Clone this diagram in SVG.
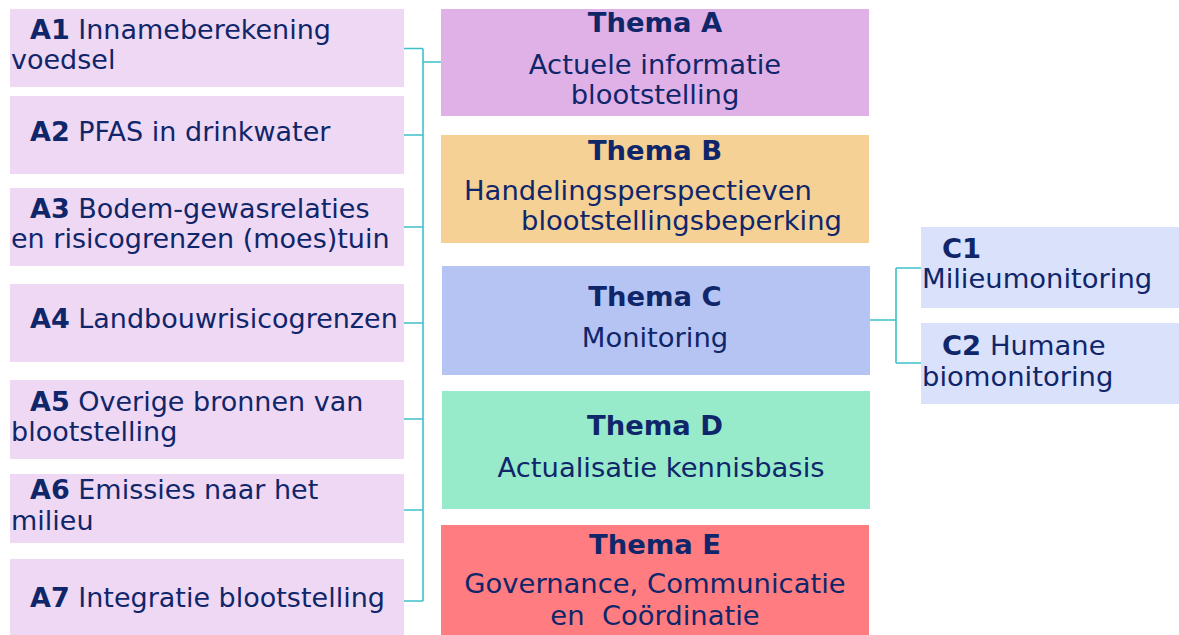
<svg xmlns="http://www.w3.org/2000/svg" width="1179" height="635" viewBox="0 0 1179 635">
<style>
text{font-family:"DejaVu Sans","Verdana",sans-serif;font-size:27.4px;fill:#10266A}
.l text{font-size:27px}
.b{font-weight:bold}
.c{text-anchor:middle}
.a{fill:#EED8F3}
.cs{fill:#DAE1FA}
.ln{fill:none;stroke:#3EC0CA;stroke-width:1.6}
</style>
<rect width="1179" height="635" fill="#FFFFFF"/>
<g id="connectors">
<path class="ln" d="M404,48.5H423M404,135H423M404,227H423M404,323H423M404,419H423M404,510H423M404,601H423M423,48.5V601M423,62H441"/>
<path class="ln" d="M870,320H896M896,268V363M896,268H921M896,363H921"/>
</g>
<g id="A1" class="l"><rect class="a" x="10" y="9" width="394" height="78"/><text x="30" y="39"><tspan class="b">A1</tspan> Innameberekening</text><text x="11" y="69">voedsel</text></g>
<g id="A2" class="l"><rect class="a" x="10" y="96" width="394" height="78"/><text x="30" y="141"><tspan class="b">A2</tspan> PFAS in drinkwater</text></g>
<g id="A3" class="l"><rect class="a" x="10" y="188" width="394" height="78"/><text x="30" y="218"><tspan class="b">A3</tspan> Bodem-gewasrelaties</text><text x="11" y="248">en risicogrenzen (moes)tuin</text></g>
<g id="A4" class="l"><rect class="a" x="10" y="284" width="394" height="78"/><text x="30" y="328"><tspan class="b">A4</tspan> Landbouwrisicogrenzen</text></g>
<g id="A5" class="l"><rect class="a" x="10" y="380" width="394" height="79"/><text x="30" y="411"><tspan class="b">A5</tspan> Overige bronnen van</text><text x="11" y="441">blootstelling</text></g>
<g id="A6" class="l"><rect class="a" x="10" y="474" width="394" height="69"/><text x="30" y="499"><tspan class="b">A6</tspan> Emissies naar het</text><text x="11" y="530">milieu</text></g>
<g id="A7" class="l"><rect class="a" x="10" y="559" width="394" height="76"/><text x="30" y="607"><tspan class="b">A7</tspan> Integratie blootstelling</text></g>
<g id="ThemaA"><rect x="441" y="9" width="428" height="107" fill="#DFB1E6"/><text class="b c" x="655" y="32">Thema A</text><text class="c" x="655" y="74">Actuele informatie</text><text class="c" x="655" y="104">blootstelling</text></g>
<g id="ThemaB"><rect x="441" y="135" width="428" height="108" fill="#F5D196"/><text class="b c" x="655" y="160">Thema B</text><text x="464" y="200">Handelingsperspectieven</text><text x="521" y="230">blootstellingsbeperking</text></g>
<g id="ThemaC"><rect x="442" y="266" width="428" height="109" fill="#B6C4F3"/><text class="b c" x="655" y="306">Thema C</text><text class="c" x="655" y="347">Monitoring</text></g>
<g id="ThemaD"><rect x="442" y="391" width="428" height="118" fill="#97EACA"/><text class="b c" x="655" y="435">Thema D</text><text class="c" x="661" y="477">Actualisatie kennisbasis</text></g>
<g id="ThemaE"><rect x="441" y="525" width="428" height="110" fill="#FF7C80"/><text class="b c" x="655" y="554">Thema E</text><text class="c" x="655" y="593">Governance, Communicatie</text><text class="c" x="655" y="625" xml:space="preserve">en  Coördinatie</text></g>
<g id="C1"><rect class="cs" x="921" y="227" width="258" height="81"/><text class="b" x="942" y="258">C1</text><text x="922" y="288">Milieumonitoring</text></g>
<g id="C2"><rect class="cs" x="921" y="323" width="258" height="81"/><text x="942" y="355"><tspan class="b">C2</tspan> Humane</text><text x="922" y="386">biomonitoring</text></g>
</svg>
